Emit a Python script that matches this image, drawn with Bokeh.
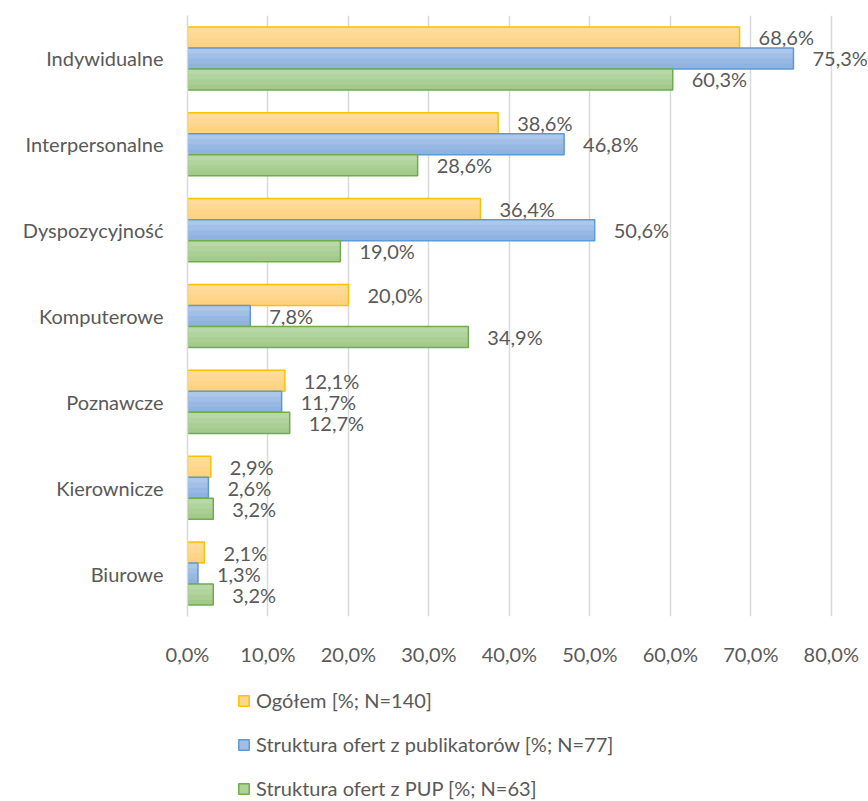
from bokeh.plotting import figure
from bokeh.models import FactorRange, Range1d, FixedTicker, Legend, LegendItem, ColumnDataSource
from bokeh.layouts import column
from bokeh.transform import dodge
from bokeh.core.properties import value
from bokeh.embed import file_html
from bokeh.resources import INLINE

categories = ["Indywidualne", "Interpersonalne", "Dyspozycyjność", "Komputerowe",
              "Poznawcze", "Kierownicze", "Biurowe"]
ogolem = [68.6, 38.6, 36.4, 20.0, 12.1, 2.9, 2.1]
publikatory = [75.3, 46.8, 50.6, 7.8, 11.7, 2.6, 1.3]
pup = [60.3, 28.6, 19.0, 34.9, 12.7, 3.2, 3.2]
x_ticks = [0, 10, 20, 30, 40, 50, 60, 70, 80]
series_names = ["Ogółem [%; N=140]", "Struktura ofert z publikatorów [%; N=77]",
                "Struktura ofert z PUP [%; N=63]"]

FONT = "Lato"
GREY = "#595959"

def fmt(v):
    return f"{v:.1f}%".replace(".", ",")

src = ColumnDataSource(dict(
    cat=categories,
    a=ogolem, b=publikatory, c=pup,
    la=[fmt(v) for v in ogolem], lb=[fmt(v) for v in publikatory], lc=[fmt(v) for v in pup],
))

TOP_H = 676
p = figure(width=868, height=TOP_H, output_backend="svg", toolbar_location=None,
           y_range=FactorRange(*categories[::-1]), x_range=Range1d(0, 84.5),
           min_border_left=187, min_border_right=1, min_border_top=15,
           min_border_bottom=TOP_H - 616)
p.outline_line_color = None

bh = 0.245
# gradient shades top -> bottom
specs = [("a", "la", bh, ["#FFDB9D", "#FFD893", "#FFD58A", "#FFD282"], "#FFC000", "#FFD68E"),
         ("b", "lb", 0.0, ["#ADC7EA", "#A2BFE7", "#98B8E4", "#8FB2E1"], "#5B9BD5", "#A0BEE6"),
         ("c", "lc", -bh, ["#B9D8A9", "#B1D39E", "#AACF95", "#A3CA8C"], "#70AD47", "#AFD29A")]
nb = 4
for col, lab, off, shades, linec, midc in specs:
    bottom = off - bh / 2
    for k, shade in enumerate(shades):
        top = off + bh / 2 - bh / nb * k
        h = top - bottom
        p.hbar(y=dodge("cat", bottom + h / 2, range=p.y_range), right=col, left=0,
               height=h, source=src, fill_color=shade, line_color=None)
    p.hbar(y=dodge("cat", off, range=p.y_range), right=col, left=0, height=bh,
           source=src, fill_color=None, line_color=linec, line_width=1.5)
    p.text(x=col, y=dodge("cat", off, range=p.y_range), text=lab, source=src,
           x_offset=19, text_baseline="middle", text_align="left",
           text_font=value(FONT), text_font_size="20px", text_color=GREY)

p.xaxis.ticker = FixedTicker(ticks=x_ticks)
p.xaxis.major_label_overrides = {t: fmt(t) for t in x_ticks}
p.xaxis.axis_line_color = None
p.xaxis.major_tick_line_color = None
p.xaxis.minor_tick_line_color = None
p.xaxis.major_label_standoff = 19
p.xaxis.major_label_text_font = FONT
p.xaxis.major_label_text_font_size = "20px"
p.xaxis.major_label_text_color = GREY

p.yaxis.axis_line_color = "#D9D9D9"
p.yaxis.axis_line_width = 1.5
p.yaxis.major_tick_line_color = None
p.yaxis.minor_tick_line_color = None
p.yaxis.major_label_standoff = 18
p.yaxis.major_label_text_font = FONT
p.yaxis.major_label_text_font_size = "20px"
p.yaxis.major_label_text_color = GREY

p.xgrid.grid_line_color = "#D9D9D9"
p.xgrid.grid_line_width = 1.5
p.ygrid.grid_line_color = None

# legend panel below the chart; its renderers map to no visible factor, only the swatches show
LEG_H = 801 - TOP_H
pl = figure(width=868, height=LEG_H, output_backend="svg", toolbar_location=None,
            y_range=FactorRange("legend"), x_range=Range1d(0, 80),
            min_border=0, x_axis_location=None, y_axis_location=None)
pl.outline_line_color = None
pl.grid.grid_line_color = None
items = []
for (col, lab, off, shades, linec, midc), name in zip(specs, series_names):
    r = pl.hbar(y="cat", right=col, left=0, height=bh, source=src,
                fill_color=midc, line_color=linec, line_width=1.5)
    items.append(LegendItem(label=name, renderers=[r]))

legend = Legend(items=items, location=(50, 1), orientation="vertical",
                glyph_width=13, glyph_height=13, label_standoff=6, label_height=24,
                label_text_font=FONT, label_text_font_size="20px", label_text_color=GREY,
                spacing=20, padding=0, margin=0,
                border_line_alpha=0, background_fill_alpha=0)
pl.add_layout(legend)

layout = column(p, pl, spacing=0)
open("out.html", "w").write(file_html(layout, INLINE))
